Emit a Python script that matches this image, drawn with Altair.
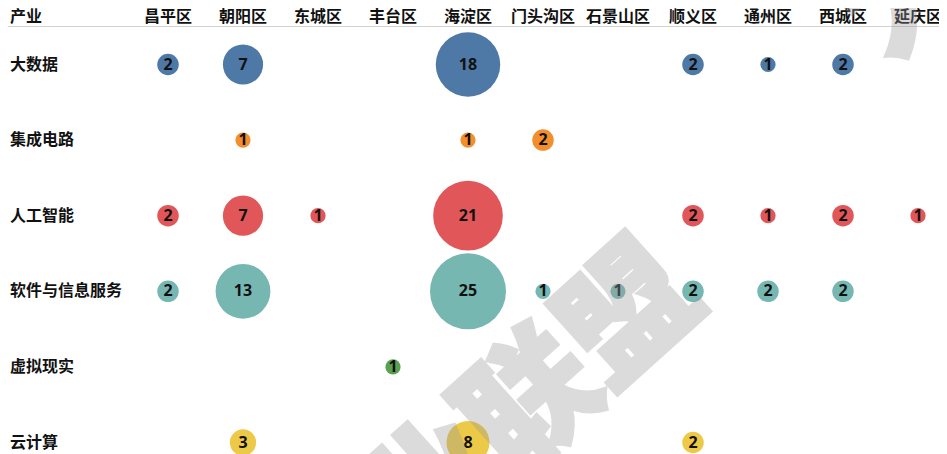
import altair as alt
import pandas as pd

districts = ["昌平区", "朝阳区", "东城区", "丰台区", "海淀区", "门头沟区",
             "石景山区", "顺义区", "通州区", "西城区", "延庆区"]
industries = ["大数据", "集成电路", "人工智能", "软件与信息服务", "虚拟现实", "云计算"]
colors = ["#4e79a7", "#f28e2b", "#e15759", "#76b7b2", "#59a14f", "#edc948"]

big_data = [2, 7, None, None, 18, None, None, 2, 1, 2, None]
ic = [None, 1, None, None, 1, 2, None, None, None, None, None]
ai = [2, 7, 1, None, 21, None, None, 2, 1, 2, 1]
software = [2, 13, None, None, 25, 1, 1, 2, 2, 2, None]
vr = [None, None, None, 1, None, None, None, None, None, None, None]
cloud = [None, 3, None, None, 8, None, None, 2, None, None, None]

series = [big_data, ic, ai, software, vr, cloud]
rows = []
for ind, vals in zip(industries, series):
    for d, v in zip(districts, vals):
        if v is not None:
            rows.append({"industry": ind, "district": d, "count": v})
df = pd.DataFrame(rows)

W, H = 931, 452
cjk = "Noto Sans CJK SC"

xs = alt.Scale(domain=districts, range=[122.5, 947.5], padding=0.5)
ys = alt.Scale(domain=industries, range=[18.7, 472.3], padding=0.5)

bubbles = alt.Chart(df).mark_circle(opacity=1).encode(
    x=alt.X("district:N", scale=xs, axis=None),
    y=alt.Y("industry:N", scale=ys, axis=None),
    size=alt.Size("count:Q", scale=alt.Scale(domain=[0, 25], range=[0, 5776]), legend=None),
    color=alt.Color("industry:N", scale=alt.Scale(domain=industries, range=colors), legend=None),
)

nums = alt.Chart(df).mark_text(font="Open Sans", fontWeight="bold", fontSize=16,
                               color="#111111", baseline="middle", align="center").encode(
    x=alt.X("district:N", scale=xs, axis=None),
    y=alt.Y("industry:N", scale=ys, axis=None),
    text="count:Q",
)

hdr_df = pd.DataFrame({"district": districts})
headers = alt.Chart(hdr_df).mark_text(font=cjk, fontWeight="bold", fontSize=16,
                                      color="#111111", baseline="middle", align="center").encode(
    x=alt.X("district:N", scale=xs, axis=None),
    y=alt.value(9),
    text="district:N",
)

row_df = pd.DataFrame({"industry": industries})
row_labels = alt.Chart(row_df).mark_text(font=cjk, fontWeight="bold", fontSize=16,
                                         color="#111111", baseline="middle", align="left").encode(
    y=alt.Y("industry:N", scale=ys, axis=None),
    x=alt.value(2),
    text="industry:N",
)

corner = alt.Chart(pd.DataFrame({"t": ["产业"]})).mark_text(
    font=cjk, fontWeight="bold", fontSize=16, color="#111111", baseline="middle", align="left"
).encode(x=alt.value(2), y=alt.value(9), text="t:N")

line = alt.Chart(pd.DataFrame({"a": [0]})).mark_rule(color="#d0d0d0", strokeWidth=1).encode(
    x=alt.value(0), x2=alt.value(W), y=alt.value(18.5)
)

watermark = alt.Chart(pd.DataFrame({"t": ["产业联盟"]})).mark_text(
    font=cjk, fontWeight=900, fontSize=132, color="#999999", opacity=0.35,
    stroke="#999999", strokeWidth=4,
    angle=318, align="center", baseline="middle"
).encode(x=alt.value(476), y=alt.value(441), text="t:N")

watermark2 = alt.Chart(pd.DataFrame({"t": ["大"]})).mark_text(
    font=cjk, fontWeight=900, fontSize=132, color="#999999", opacity=0.35,
    stroke="#999999", strokeWidth=4,
    angle=318, align="center", baseline="middle"
).encode(x=alt.value(900), y=alt.value(-20), text="t:N")

chart = alt.layer(line, corner, headers, row_labels, bubbles, nums, watermark, watermark2).properties(
    width=W, height=H, padding=0, autosize=alt.AutoSizeParams(type="none")
).configure_view(stroke=None)

chart.save("out.html", embed_options={"renderer": "svg", "actions": False})
